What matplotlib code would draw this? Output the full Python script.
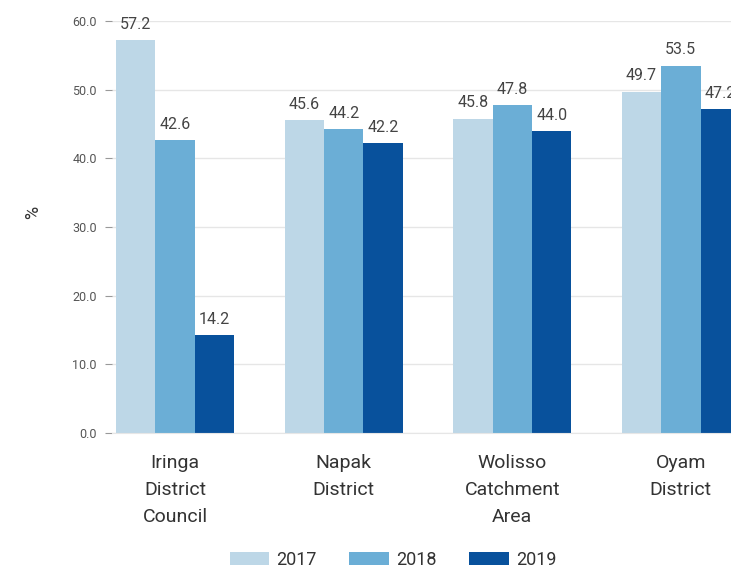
import matplotlib.pyplot as plt
import numpy as np

# Dados
categories = ['Iringa\nDistrict\nCouncil', 'Napak\nDistrict', 'Wolisso\nCatchment\nArea', 'Oyam\nDistrict']
years = ['2017', '2018', '2019']
v2017 = [57.2, 45.6, 45.8, 49.7]
v2018 = [42.6, 44.2, 47.8, 53.5]
v2019 = [14.2, 42.2, 44.0, 47.2]
colors = ['#bdd7e7', '#6baed6', '#08519c']

plt.rcParams['font.family'] = ['Roboto', 'DejaVu Sans']

fig = plt.figure(figsize=(7.31, 5.69), dpi=100)
# eixos passam da margem direita, como no original
ax = fig.add_axes([112 / 731, 136 / 569, (744 - 112) / 731, 412 / 569])

x = np.arange(len(categories))
w = 0.234
for i, (vals, yr) in enumerate(zip([v2017, v2018, v2019], years)):
    bars = ax.bar(x + (i - 1) * w, vals, width=w, color=colors[i], label=yr, zorder=2)
    for b, v in zip(bars, vals):
        ax.text(b.get_x() + b.get_width() / 2, v + 1.2, f'{v:.1f}', ha='center', va='bottom',
                fontsize=11.5, color='#444444')

ax.set_xlim(-0.375, 3.375)
ax.set_ylim(0, 60)
ax.set_yticks(np.arange(0, 61, 10))
ax.set_yticklabels([f'{t:.1f}' for t in np.arange(0, 61, 10)])
ax.grid(axis='y', color='#e6e6e6', linewidth=1, zorder=0)
ax.set_xticks(x)
ax.set_xticklabels(categories, fontsize=14, color='#333333', linespacing=1.66)
ax.tick_params(axis='x', length=0, pad=15)
ax.tick_params(axis='y', length=5, color='#999999', labelsize=9, labelcolor='#555555', pad=6)
for s in ['top', 'right', 'left']:
    ax.spines[s].set_visible(False)
ax.spines['bottom'].set_color('#e6e6e6')
ax.set_ylabel('%', fontsize=13, color='#333333')
ax.yaxis.set_label_coords(-0.11, 0.536)

fig.legend(loc='center', bbox_to_anchor=(0.538, 0.016), ncol=3, frameon=False, fontsize=13,
           handlelength=2.2, handleheight=0.7, columnspacing=1.8, handletextpad=0.4,
           labelcolor='#333333')

fig.savefig('out.png', dpi=100)
